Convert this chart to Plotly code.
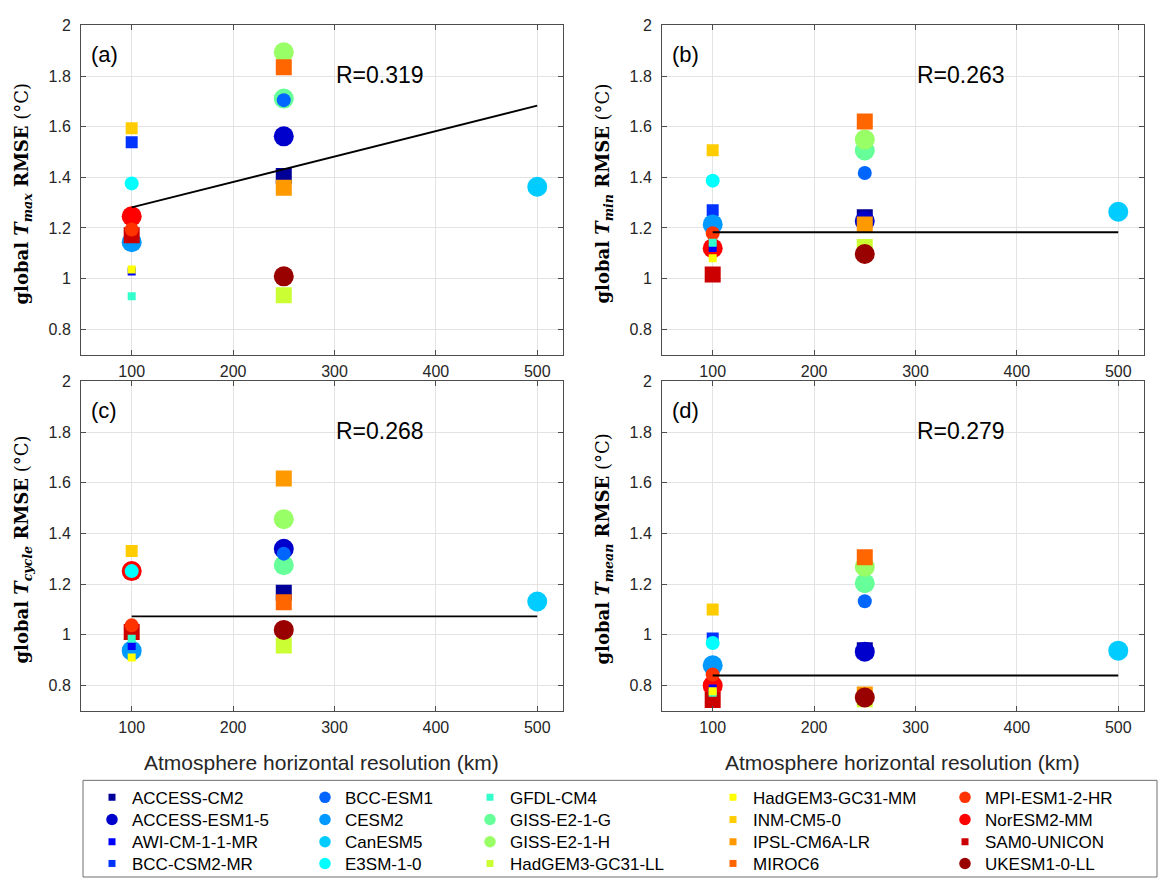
import plotly.graph_objects as go

# ---------------- data ----------------
models = ["ACCESS-CM2", "ACCESS-ESM1-5", "AWI-CM-1-1-MR", "BCC-CSM2-MR", "BCC-ESM1",
          "CESM2", "CanESM5", "E3SM-1-0", "GFDL-CM4", "GISS-E2-1-G",
          "GISS-E2-1-H", "HadGEM3-GC31-LL", "HadGEM3-GC31-MM", "INM-CM5-0", "IPSL-CM6A-LR",
          "MIROC6", "MPI-ESM1-2-HR", "NorESM2-MM", "SAM0-UNICON", "UKESM1-0-LL"]
resolution_km = [250, 250, 100, 100, 250, 100, 500, 100, 100, 250,
                 250, 250, 100, 100, 250, 250, 100, 100, 100, 250]
rmse_tmax = [1.405, 1.562, 1.028, 1.539, 1.705, 1.144, 1.363, 1.376, 0.930, 1.711,
             1.894, 0.934, 1.036, 1.594, 1.359, 1.835, 1.194, 1.246, 1.171, 1.009]
rmse_tmin = [1.242, 1.227, 1.121, 1.270, 1.417, 1.214, 1.264, 1.387, 1.142, 1.506,
             1.549, 1.125, 1.080, 1.507, 1.214, 1.621, 1.179, 1.120, 1.016, 1.097]
rmse_tcycle = [1.166, 1.339, 0.955, 1.250, 1.320, 0.937, 1.131, 1.251, 0.984, 1.274,
               1.456, 0.957, 0.910, 1.330, 1.617, 1.128, 1.037, 1.251, 1.011, 1.019]
rmse_tmean = [0.939, 0.933, 0.788, 0.985, 1.132, 0.879, 0.937, 0.967, 0.771, 1.203,
              1.268, 0.745, 0.777, 1.099, 0.764, 1.306, 0.843, 0.799, 0.742, 0.752]
fit_x = [100, 500]
fit_tmax = [1.281, 1.683]
fit_tmin = [1.183, 1.183]
fit_tcycle = [1.072, 1.072]
fit_tmean = [0.839, 0.839]
r_labels = ["R=0.319", "R=0.263", "R=0.268", "R=0.279"]
panel_tags = ["(a)", "(b)", "(c)", "(d)"]
var_subs = ["max", "min", "cycle", "mean"]
x_ticks = [100, 200, 300, 400, 500]
y_ticks = [0.8, 1.0, 1.2, 1.4, 1.6, 1.8, 2.0]
y_tick_labels = ["0.8", "1", "1.2", "1.4", "1.6", "1.8", "2"]
x_title = "Atmosphere horizontal resolution (km)"

# ---------------- style ----------------
colors = ["#000099", "#0000cc", "#0000ff", "#0033ff", "#0066ff",
          "#0099ff", "#00ccff", "#00ffff", "#33ffcc", "#66ff99",
          "#99ff66", "#ccff33", "#ffff00", "#ffcc00", "#ff9900",
          "#ff6600", "#ff3300", "#ff0000", "#cc0000", "#990000"]
symbols = ["square", "circle", "square", "square", "circle",
           "circle", "circle", "circle", "square", "circle",
           "circle", "square", "square", "square", "square",
           "square", "circle", "circle", "square", "circle"]
sizes = [16, 20, 8, 12, 14, 20, 20, 14, 8, 20,
         20, 16, 8, 12, 16, 16, 14, 20, 16, 20]
draw_order = ["ACCESS-CM2", "ACCESS-ESM1-5", "BCC-CSM2-MR", "GISS-E2-1-G", "BCC-ESM1",
              "CESM2", "NorESM2-MM", "SAM0-UNICON", "MPI-ESM1-2-HR", "E3SM-1-0",
              "AWI-CM-1-1-MR", "GFDL-CM4", "HadGEM3-GC31-MM", "INM-CM5-0", "CanESM5",
              "GISS-E2-1-H", "HadGEM3-GC31-LL", "IPSL-CM6A-LR", "MIROC6", "UKESM1-0-LL"]

W, H = 1163, 882
SANS = "Liberation Sans, Arial, sans-serif"
SERIF = "DejaVu Serif, serif"
TXT = "#262626"

col_px = [(81, 562.6), (662, 1143.6)]
row_px = [(17.7, 351.3), (378.5, 712.4)]

panels = [rmse_tmax, rmse_tmin, rmse_tcycle, rmse_tmean]
fits = [fit_tmax, fit_tmin, fit_tcycle, fit_tmean]

fig = go.Figure()
layout = dict(width=W, height=H, margin=dict(l=0, r=0, t=0, b=0),
              paper_bgcolor="white", plot_bgcolor="white", showlegend=True,
              font=dict(family=SANS, color=TXT))
annotations = []

for p in range(4):
    r, c = divmod(p, 2)
    sfx = "" if p == 0 else str(p + 1)
    xd = [col_px[c][0] / W, col_px[c][1] / W]
    yd = [1 - row_px[r][1] / H, 1 - row_px[r][0] / H]
    axcommon = dict(showline=True, linecolor="#4d4d4d", linewidth=1, mirror="ticks",
                    ticks="inside", ticklen=5, tickcolor="#4d4d4d",
                    showgrid=True, gridcolor="#e3e3e3", gridwidth=1, zeroline=False,
                    tickfont=dict(family=SANS, size=16, color=TXT))
    layout["xaxis" + sfx] = dict(domain=xd, range=[50, 525], anchor="y" + sfx,
                                 tickvals=x_ticks, ticklabelstandoff=2, **axcommon)
    layout["yaxis" + sfx] = dict(domain=yd, range=[0.7, 2.0], anchor="x" + sfx,
                                 tickvals=y_ticks, ticktext=y_tick_labels,
                                 ticklabelstandoff=6, **axcommon)
    xr, yr = "x" + sfx, "y" + sfx
    vals = panels[p]
    for name in draw_order:
        i = models.index(name)
        fig.add_trace(go.Scatter(
            x=[resolution_km[i]], y=[vals[i]], mode="markers", xaxis=xr, yaxis=yr,
            marker=dict(symbol=symbols[i], size=sizes[i], color=colors[i], line=dict(width=0)),
            showlegend=False, hoverinfo="skip"))
    fig.add_trace(go.Scatter(x=fit_x, y=fits[p], mode="lines", xaxis=xr, yaxis=yr,
                             line=dict(color="black", width=1.8), showlegend=False,
                             hoverinfo="skip"))
    dx, dy = xr + " domain", yr + " domain"
    annotations.append(dict(text=panel_tags[p], xref=dx, yref=dy, x=0.017, y=0.912,
                            xanchor="left", yanchor="middle", showarrow=False,
                            font=dict(family=SANS, size=22, color="black")))
    annotations.append(dict(text=r_labels[p], xref=dx, yref=dy, x=0.62, y=0.849,
                            xanchor="center", yanchor="middle", showarrow=False,
                            font=dict(family=SANS, size=23, color="black")))
    annotations.append(dict(text="<b>global <i>T</i><sub><i>%s</i></sub> RMSE</b> (°C)" % var_subs[p],
                            xref=dx, yref=dy, x=-0.12, y=0.49, textangle=-90,
                            xanchor="center", yanchor="middle", showarrow=False,
                            font=dict(family=SERIF, size=18, color="black")))
    if r == 1:
        annotations.append(dict(text=x_title, xref=dx, yref=dy, x=0.5, y=-0.158,
                                xanchor="center", yanchor="middle", showarrow=False,
                                font=dict(family=SANS, size=21, color=TXT)))

# legend: five columns x four rows (column-major), one legend box per entry
legend_text_x = [135, 348, 513, 756, 988]
legend_row_y = [800, 822.5, 845, 867]
LEG_FS = 17
item_h = 1.3 * LEG_FS + 3
for col in range(5):
    for k in range(4):
        i = col * 4 + k
        key = "legend" if i == 0 else "legend%d" % (i + 1)
        top = legend_row_y[k] - 5 - item_h / 2
        layout[key] = dict(x=(legend_text_x[col] - 43) / W, y=1 - top / H, xanchor="left",
                           yanchor="top", orientation="v", bgcolor="rgba(0,0,0,0)",
                           borderwidth=0, tracegroupgap=0,
                           font=dict(family=SANS, size=LEG_FS, color="black"))
        fig.add_trace(go.Scatter(
            x=[None], y=[None], mode="markers", name=models[i], legend=key,
            marker=dict(symbol=symbols[i], size=7 if symbols[i] == "square" else 11.5,
                        color=colors[i], line=dict(width=0)),
            showlegend=True, hoverinfo="skip"))

layout["annotations"] = annotations
layout["shapes"] = [dict(type="rect", xref="paper", yref="paper",
                         x0=83 / W, x1=1157 / W, y0=1 - 881 / H, y1=1 - 783 / H,
                         line=dict(color="#6e6e6e", width=1), fillcolor="rgba(0,0,0,0)")]
fig.update_layout(**layout)

fig.write_html("out.html", config={"displayModeBar": False},
               post_script="document.body.style.margin='0';")
